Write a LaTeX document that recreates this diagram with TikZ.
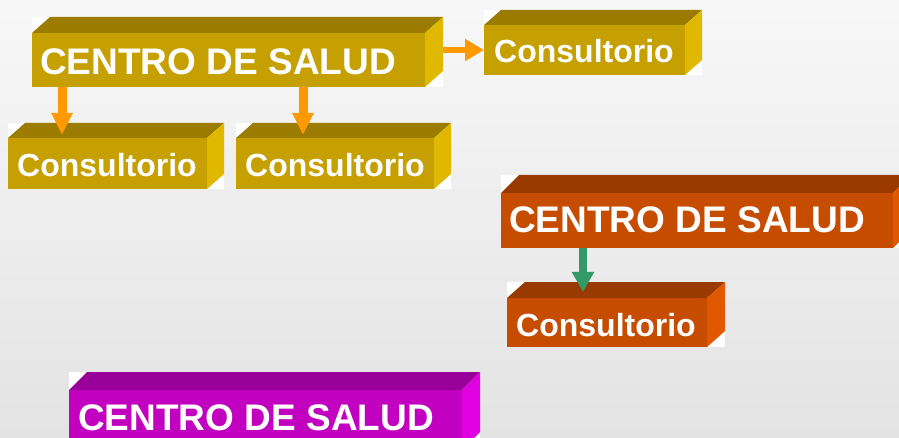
\documentclass[tikz,border=0pt]{standalone}
\usepackage{fontspec}
\setmainfont{Liberation Sans}
\usetikzlibrary{arrows.meta,calc}
\definecolor{goldF}{HTML}{C6A000}
\definecolor{goldT}{HTML}{9C7C00}
\definecolor{goldS}{HTML}{E0B800}
\definecolor{oranF}{HTML}{C64C00}
\definecolor{oranT}{HTML}{993A00}
\definecolor{oranS}{HTML}{E05800}
\definecolor{magF}{HTML}{C200C0}
\definecolor{magT}{HTML}{990099}
\definecolor{magS}{HTML}{E000E0}
\definecolor{arrO}{HTML}{FF9900}
\definecolor{arrG}{HTML}{339966}
\tikzset{
  boxf/.style={inner sep=0pt, outer sep=0pt},
  bigtxt/.style={text=white, inner sep=0pt, anchor=base west, font=\bfseries\fontsize{37}{37}\selectfont},
  smalltxt/.style={text=white, inner sep=0pt, anchor=base west, font=\bfseries\fontsize{32}{32}\selectfont},
  oarrow/.style={draw=arrO, line width=9pt, -{Triangle[width=20pt,length=22pt]}},
  harrow/.style={draw=arrO, line width=6pt, -{Triangle[width=21pt,length=19pt]}},
  garrow/.style={draw=arrG, line width=8pt, -{Triangle[width=21pt,length=20pt]}}
}
\newcommand\cub[8]{%
  \fill[white] (#2,#3-#7) rectangle (#2+#4+#6,#3+#5);
  \node[boxf, fill=#8F, minimum width=#4pt, minimum height=#5pt, anchor=north west] (#1) at (#2,#3) {};
  \fill[#8T] (#1.north west) -- ++(#6,-#7) -- ++(#4,0) -- (#1.north east) -- cycle;
  \fill[#8S] (#1.north east) -- ++(#6,-#7) -- ++(0,#5) -- (#1.south east) -- cycle;
}
\begin{document}
\begin{tikzpicture}[x=1pt,y=-1pt]
\useasboundingbox (0,0) rectangle (899,438);
\clip (0,0) rectangle (899,438);
\shade[top color=black!3, bottom color=black!11] (0,0) rectangle (899,438);
% boxes
\cub{c1}{32}{33}{393}{54}{18}{16}{gold}
\cub{c2}{484}{25}{201}{50}{17}{15}{gold}
\cub{c3}{8}{138}{199}{51}{17}{15}{gold}
\cub{c4}{236}{138}{198}{51}{17}{15}{gold}
\cub{c5}{501}{193}{392}{55}{18}{18}{oran}
\cub{c6}{507}{298}{200}{49}{18}{16}{oran}
\cub{c7}{69}{390}{393}{60}{18}{18}{mag}
% texts
\node[bigtxt] (t1) at (40,75) {CENTRO DE SALUD};
\node[smalltxt] (t2) at (494,63) {Consultorio};
\node[smalltxt] (t3) at (17,177) {Consultorio};
\node[smalltxt] (t4) at (245,177) {Consultorio};
\node[bigtxt] (t5) at (509,233) {CENTRO DE SALUD};
\node[smalltxt] (t6) at (516,336) {Consultorio};
\node[bigtxt] (t7) at (78,430) {CENTRO DE SALUD};
% arrows
\draw[harrow] ($(c1.north east)+(18,17)$) -- (c2.west);
\draw[oarrow] ($(c1.south west)+(30,0)$) -- ($(c3.north west)+(54,-3)$);
\draw[oarrow] ($(c1.south west)+(271,0)$) -- ($(c4.north west)+(67,-3)$);
\draw[garrow] ($(c5.south west)+(82,0)$) -- ($(c6.north west)+(76,-6)$);
\end{tikzpicture}
\end{document}
